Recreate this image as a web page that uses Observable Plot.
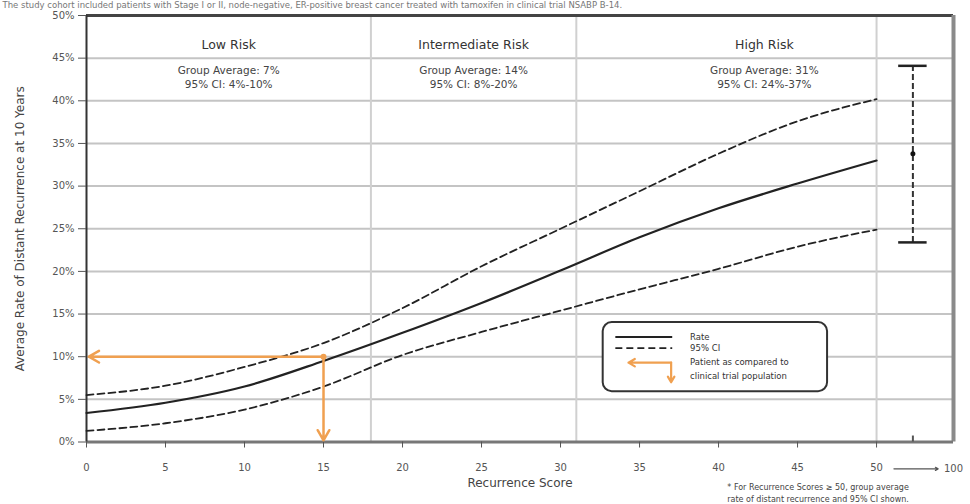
<!DOCTYPE html>
<html>
<head>
<meta charset="utf-8">
<script src="https://cdn.jsdelivr.net/npm/d3@7"></script>
<script src="https://cdn.jsdelivr.net/npm/@observablehq/plot@0.6"></script>
<style>
  html, body { margin: 0; padding: 0; background: #fff; }
  #chart svg { display: block; }
</style>
</head>
<body>
<div id="chart"></div>
<script>
// ---- data ----
const scores   = [0, 5, 10, 15, 20, 25, 30, 35, 40, 45, 50];
const rate     = [3.4, 4.6, 6.5, 9.5, 12.8, 16.3, 20.1, 24.0, 27.4, 30.3, 33.0];
const ciUpper  = [5.5, 6.6, 8.8, 11.6, 15.7, 20.6, 25.0, 29.4, 33.8, 37.6, 40.2];
const ciLower  = [1.3, 2.2, 3.8, 6.5, 10.2, 12.9, 15.4, 17.9, 20.3, 22.9, 24.9];
const yTicks   = [0, 5, 10, 15, 20, 25, 30, 35, 40, 45, 50];
const xTicks   = [0, 5, 10, 15, 20, 25, 30, 35, 40, 45, 50];
const riskCuts = [18, 31, 50];
const riskNames = ["Low Risk", "Intermediate Risk", "High Risk"];
const riskAvg   = ["Group Average: 7%", "Group Average: 14%", "Group Average: 31%"];
const riskCI    = ["95% CI: 4%-10%", "95% CI: 8%-20%", "95% CI: 24%-37%"];
const riskCenter = [9, 24.5, 42.9];
const patientScore = 15, patientRate = 10;
const highScoreGroup = {score: 52.3, mean: 33.8, lo: 23.4, hi: 44.1};
const legendLabels = ["Rate", "95% CI", "Patient as compared to", "clinical trial population"];
const footnote = ["* For Recurrence Scores \u2265 50, group average", "rate of distant recurrence and 95% CI shown."];

const rows = scores.map((s, i) => ({score: s, rate: rate[i], upper: ciUpper[i], lower: ciLower[i]}));
const xMax = 54.87;
const ink = "#222";
const txt = "#444";
const orange = "#f0a050";
const font = "DejaVu Sans, Verdana, sans-serif";

const riskRows = riskNames.map((n, i) => ({x: riskCenter[i], name: n, avg: riskAvg[i], ci: riskCI[i]}));

// legend layout (data space)
const lg = {x1: 32.7, x2: 46.9, y1: 5.9, y2: 14.0, sx1: 33.5, sx2: 37.1, tx: 38.2};
const legendText = [
  {y: 12.3, t: legendLabels[0]},
  {y: 11.0, t: legendLabels[1]},
  {y: 9.4, t: legendLabels[2]},
  {y: 7.75, t: legendLabels[3]}
];
const footRows = footnote.map((t, i) => ({t}));

const chart = Plot.plot({
  width: 970,
  height: 504,
  marginTop: 15,
  marginRight: 17,
  marginBottom: 62.5,
  marginLeft: 86,
  style: {fontFamily: font, background: "#fff", overflow: "visible"},
  x: {type: "linear", domain: [0, xMax], axis: null},
  y: {type: "linear", domain: [0, 50], axis: null},
  marks: [
    // header text above the frame
    Plot.text(["The study cohort included patients with Stage I or II, node-negative, ER-positive breast cancer treated with tamoxifen in clinical trial NSABP B-14."],
      {frameAnchor: "top-left", dx: -84, dy: -8, text: d => d, textAnchor: "start", lineAnchor: "bottom", fontSize: 8.5, fill: "#777"}),
    // grid
    Plot.ruleY(yTicks.slice(1, -1), {y: d => d, stroke: "#c4c4c4", strokeWidth: 2}),
    Plot.ruleX(riskCuts, {x: d => d, stroke: "#d0d0d0", strokeWidth: 2}),
    // frame
    Plot.ruleY([50], {y: d => d, stroke: "#444", strokeWidth: 3}),
    Plot.ruleX([xMax], {x: d => d, stroke: "#8a8a8a", strokeWidth: 4}),
    Plot.ruleY([0], {y: d => d, stroke: "#777", strokeWidth: 3}),
    Plot.ruleX([0], {x: d => d, stroke: "#333", strokeWidth: 2}),
    // axes
    Plot.axisY(yTicks, {tickSize: 8, tickFormat: d => d + "%", fontSize: 10, color: "#555", tickPadding: 4, label: null}),
    Plot.axisX(xTicks, {tickSize: 6, fontSize: 10, color: "#555", tickPadding: 16, label: null}),
    Plot.ruleX([highScoreGroup], {x: "score", y1: 0, y2: 0.7, stroke: "#555", strokeWidth: 2}),
    Plot.arrow([{a: 51.1, b: 53.9}], {x1: "a", x2: "b", y1: -3.15, y2: -3.15, stroke: "#555", strokeWidth: 1.2, headLength: 4}),
    Plot.text(["100"], {x: xMax, y: 0, dy: 27, text: d => d, fontSize: 10, fill: "#555"}),
    // axis labels
    Plot.text(["Average Rate of Distant Recurrence at 10 Years"], {frameAnchor: "left", textAnchor: "middle", dx: -66, rotate: -90, text: d => d, fontSize: 12, fill: txt}),
    Plot.text(["Recurrence Score"], {frameAnchor: "bottom", textAnchor: "middle", dy: 45, text: d => d, fontSize: 12, fill: txt}),
    // risk group headers
    Plot.text(riskRows, {x: "x", y: 46.5, text: "name", fontSize: 12.5, fill: "#333"}),
    Plot.text(riskRows, {x: "x", y: 43.55, text: "avg", fontSize: 10.5, fill: txt}),
    Plot.text(riskRows, {x: "x", y: 41.9, text: "ci", fontSize: 10.5, fill: txt}),
    // curves
    Plot.line(rows, {x: "score", y: "upper", curve: "monotone-x", stroke: ink, strokeWidth: 1.8, strokeDasharray: "7,4"}),
    Plot.line(rows, {x: "score", y: "lower", curve: "monotone-x", stroke: ink, strokeWidth: 1.8, strokeDasharray: "7,4"}),
    Plot.line(rows, {x: "score", y: "rate", curve: "monotone-x", stroke: ink, strokeWidth: 2.2}),
    // patient arrows
    Plot.arrow([{x1: patientScore, y1: patientRate, x2: 0.15, y2: patientRate}, {x1: patientScore, y1: patientRate, x2: patientScore, y2: 0.2}],
      {x1: "x1", y1: "y1", x2: "x2", y2: "y2", stroke: orange, strokeWidth: 2.5, headLength: 7}),
    Plot.dot([{x: patientScore, y: patientRate}], {x: "x", y: "y", r: 3, fill: orange}),
    // error bar for RS >= 50
    Plot.ruleX([highScoreGroup], {x: "score", y1: "lo", y2: "hi", stroke: "#333", strokeWidth: 2, strokeDasharray: "6,3"}),
    Plot.ruleY([highScoreGroup], {y: "hi", x1: d => d.score - 0.9, x2: d => d.score + 0.9, stroke: "#222", strokeWidth: 2.5}),
    Plot.ruleY([highScoreGroup], {y: "lo", x1: d => d.score - 0.9, x2: d => d.score + 0.9, stroke: "#222", strokeWidth: 2.5}),
    Plot.dot([highScoreGroup], {x: "score", y: "mean", r: 2.5, fill: "#111"}),
    // legend
    Plot.rect([lg], {x1: "x1", x2: "x2", y1: "y1", y2: "y2", fill: "#fff", stroke: "#333", strokeWidth: 2, rx: 9}),
    Plot.ruleY([lg], {y: 12.3, x1: "sx1", x2: "sx2", stroke: ink, strokeWidth: 2}),
    Plot.ruleY([lg], {y: 11.0, x1: "sx1", x2: "sx2", stroke: ink, strokeWidth: 1.6, strokeDasharray: "7,4"}),
    Plot.arrow([{x1: 37.0, y1: 9.3, x2: 34.3, y2: 9.3}, {x1: 37.0, y1: 9.3, x2: 37.0, y2: 7.0}],
      {x1: "x1", y1: "y1", x2: "x2", y2: "y2", stroke: orange, strokeWidth: 2.2, headLength: 5}),
    Plot.text(legendText, {x: lg.tx, y: "y", text: "t", textAnchor: "start", fontSize: 8.5, fill: "#333"}),
    // footnote
    Plot.text(footRows.slice(0, 1), {x: 46.3, y: 0, dy: 45, text: "t", fontSize: 8, fill: txt}),
    Plot.text(footRows.slice(1), {x: 46.3, y: 0, dy: 57.5, text: "t", fontSize: 8, fill: txt})
  ]
});

document.getElementById("chart").appendChild(chart);
</script>
</body>
</html>
